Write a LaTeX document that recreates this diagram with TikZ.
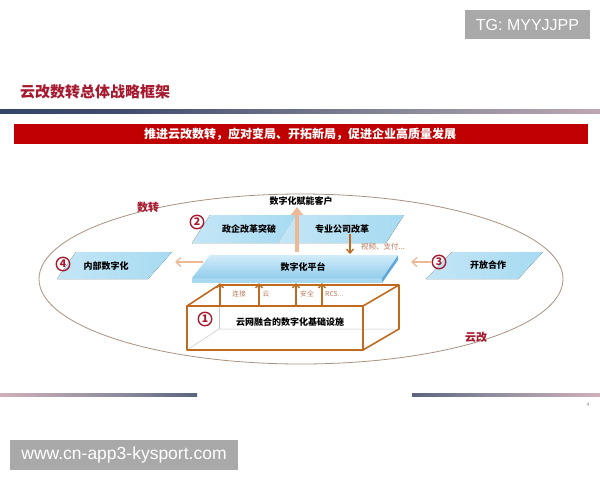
\documentclass[tikz,border=0pt]{standalone}
\usepackage{fontspec}
\setmainfont{Noto Sans CJK SC}
\newfontfamily\wmfont{Liberation Sans}
\usetikzlibrary{arrows.meta}
\definecolor{dred}{HTML}{A6192E}
\definecolor{barred}{HTML}{C00000}
\definecolor{navy}{HTML}{1F3158}
\definecolor{pinkish}{HTML}{E9BCC6}
\definecolor{midgray}{HTML}{8C8C9C}
\definecolor{paraBlue}{HTML}{A6DAF1}
\definecolor{paraLight}{HTML}{C4E6F6}
\definecolor{platTop}{HTML}{D2ECF9}
\definecolor{platBot}{HTML}{92CDEC}
\definecolor{platSide}{HTML}{5FA9D9}
\definecolor{platFront}{HTML}{A9D8F1}
\definecolor{boxBrown}{HTML}{C0691F}
\definecolor{lightArrow}{HTML}{EDB896}
\definecolor{lblBrown}{HTML}{B97A5A}
\definecolor{ellCol}{HTML}{A89282}
\definecolor{wmGray}{HTML}{A9A9A9}
\pgfdeclarehorizontalshading{topline}{100bp}{color(0bp)=(navy); color(35bp)=(navy!70!midgray); color(60bp)=(midgray); color(88bp)=(pinkish); color(100bp)=(white)}
\pgfdeclarehorizontalshading{botleft}{100bp}{color(0bp)=(white); color(15bp)=(pinkish); color(55bp)=(midgray); color(100bp)=(navy)}
\pgfdeclarehorizontalshading{botright}{100bp}{color(0bp)=(navy); color(45bp)=(midgray); color(85bp)=(pinkish); color(100bp)=(white)}
\tikzset{
  para/.style={left color=paraLight, right color=paraBlue, draw=none},
  lbl/.style={font=\fontsize{9}{10}\selectfont\bfseries, text=black, inner sep=0pt},
  small/.style={font=\fontsize{6.8}{7}\selectfont, text=lblBrown, inner sep=0pt},
  circnum/.style={circle, draw=dred, line width=1.4pt, minimum size=13.5pt, inner sep=0pt, font=\fontsize{10.5}{10.5}\selectfont\bfseries, text=dred},
  bigarrow/.style={draw=lightArrow, line width=4pt, -{Triangle[length=8pt,width=12pt]}},
  sidearrow/.style={draw=lightArrow, line width=1.3pt, -{Straight Barb[length=5pt,width=9pt]}},
  brownarrow/.style={draw=boxBrown, line width=1.3pt, -{Straight Barb[length=4pt,width=7pt]}},
  boxline/.style={draw=boxBrown, line width=1.6pt, line join=round},
  hidden/.style={draw=black!22, line width=0.5pt},
  wm/.style={fill=wmGray, text=white, inner sep=0pt}
}
\begin{document}
\begin{tikzpicture}[x=1pt,y=-1pt]
\useasboundingbox (0,0) rectangle (600,480);
\fill[white] (0,0) rectangle (600,480);

% watermarks
\node[wm, minimum width=125pt, minimum height=29pt, font=\wmfont\fontsize{16}{16}\selectfont] (tg) at (527.5,24.5) {TG: MYYJJPP};
\node[wm, minimum width=228pt, minimum height=30pt, font=\wmfont\fontsize{17.5}{18}\selectfont] (web) at (124,455) {www.cn-app3-kysport.com};

% title and bars
\node[font=\fontsize{15}{16}\selectfont\bfseries, text=dred, anchor=west, inner sep=0pt] (title) at (20,92) {云改数转总体战略框架};
\shade[shading=topline] (0,109.5) rectangle (600,113);
\fill[barred] (14,123.5) rectangle (588,143.5);
\node[font=\fontsize{12}{12}\selectfont\bfseries, text=white, inner sep=0pt] (banner) at (300,134) {推进云改数转，应对变局、开拓新局，促进企业高质量发展};
\shade[shading=botleft] (0,393) rectangle (197,396);
\shade[shading=botright] (412,393) rectangle (600,396);
\node[font=\fontsize{5}{5}\selectfont, text=black!45, inner sep=0pt] (pg) at (588,405) {4};

% big ellipse
\draw[ellCol, line width=0.8pt] (301,279) ellipse [x radius=262, y radius=85];
\node[font=\fontsize{11}{11}\selectfont\bfseries, text=dred, inner sep=0pt] (shuzhuan) at (148,207) {数转};
\node[font=\fontsize{11}{11}\selectfont\bfseries, text=dred, inner sep=0pt] (yungai) at (476,337) {云改};

% infrastructure box: hidden edges
\draw[hidden] (187,350) -- (219,329) -- (399,329);
\draw[hidden] (219,285) -- (219,329);

% top parallelograms
\fill[para] (192,243) -- (210,215) -- (297,215) -- (279,243) -- cycle;
\fill[para] (279,243) -- (297,215) -- (404,215) -- (386,243) -- cycle;
\draw[white!70!paraBlue, line width=0.5pt] (279,243) -- (297,215);
\node[lbl] (zhengqi) at (249,229) {政企改革突破};
\node[lbl] (zhuanye) at (342,229) {专业公司改革};
\node[circnum] (n2) at (197,222) {2};

% platform
\fill[platSide] (382,278) -- (398,255) -- (398,260) -- (382,283) -- cycle;
\fill[platFront] (192,278) -- (382,278) -- (382,283) -- (192,283) -- cycle;
\shade[top color=platTop, bottom color=platBot] (192,278) -- (210,255) -- (398,255) -- (382,278) -- cycle;
\node[lbl] (platform) at (303,267) {数字化平台};

% side parallelograms
\fill[para] (57,279) -- (76,252) -- (172,252) -- (148,279) -- cycle;
\node[lbl] (neibu) at (106,266) {内部数字化};
\node[circnum] (n4) at (63,264) {4};
\fill[para] (426,279) -- (452,252) -- (543,252) -- (518,279) -- cycle;
\node[lbl] (kaifang) at (488,265) {开放合作};
\node[circnum] (n3) at (439,262) {3};

% customers
\node[lbl] (kehu) at (301,201) {数字化赋能客户};
\coordinate (upstart) at (297,252);
\draw[bigarrow] (upstart) -- (297,207);

% side arrows
\coordinate (lstart) at (203,262);
\coordinate (lend) at (175,262);
\draw[sidearrow] (lstart) -- (lend);
\coordinate (rend) at (411,262);
\draw[sidearrow] (n3.west) -- (rend);

% down arrow from 专业公司改革
\coordinate (dstart) at (350,234);
\coordinate (dend) at (350,254);
\draw[brownarrow] (dstart) -- (dend);
\node[font=\fontsize{7.5}{8}\selectfont, text=lblBrown, anchor=west, inner sep=0pt] (shipin) at (361,247) {视频、支付...};

% infrastructure box
\draw[boxline] (187,306) rectangle (363,350);
\draw[boxline] (187,306) -- (219,285) -- (399,285) -- (363,306);
\draw[boxline] (399,285) -- (399,329) -- (363,350);
\foreach \xx/\nm in {220/a1,259/a2,296/a3,322/a4}{
  \coordinate (\nm s) at (\xx,306);
  \coordinate (\nm e) at (\xx,283);
  \draw[brownarrow] (\nm s) -- (\nm e);
}
\node[small] (lianjie) at (239,294) {连接};
\node[small] (yun) at (266,294) {云};
\node[small] (anquan) at (307,294) {安全};
\node[small, anchor=west] (rcs) at (325,294) {RCS...};
\node[circnum] (n1) at (205,319) {1};
\node[lbl] (jichu) at (290,322) {云网融合的数字化基础设施};
\end{tikzpicture}
\end{document}
